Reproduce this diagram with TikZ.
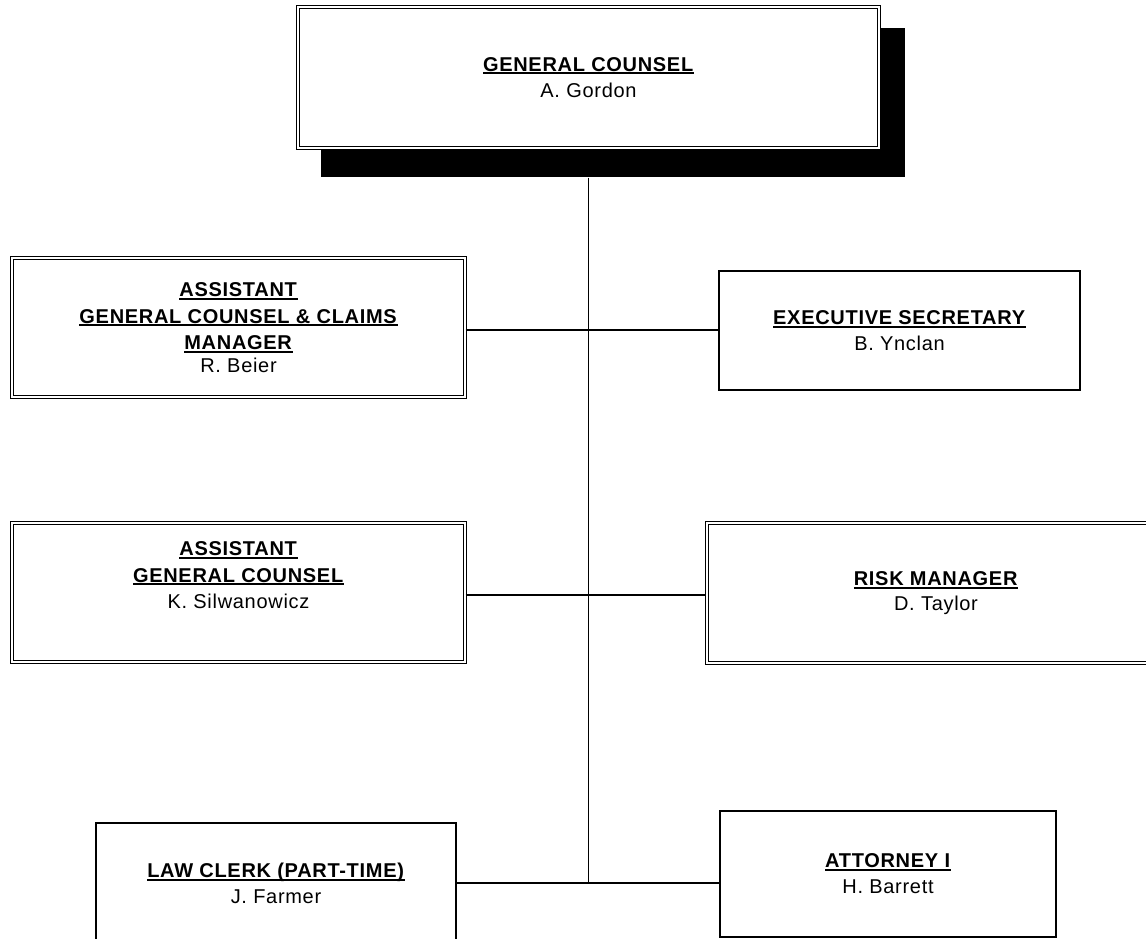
\documentclass[tikz,border=0pt]{standalone}
\usepackage{fontspec}
\setmainfont{Liberation Sans}[LetterSpace=3.5]
\newcommand{\ttl}[1]{\setbox0\hbox{\textbf{#1}}\rlap{\vrule height -1.2pt depth 2.9pt width \wd0}\box0}

\begin{document}
\begin{tikzpicture}[x=1pt,y=-1pt,line width=1.3pt,
    box/.style={draw,fill=white,inner sep=0pt,align=center,font=\fontsize{20}{25.5}\selectfont},
    main node/.style={box,line width=1.6pt},
    double node/.style={box,double,line width=1.2pt,double distance=1.4pt,font=\fontsize{20}{26.5}\selectfont},
    head node/.style={double node,line width=1.5pt,minimum width=581,minimum height=141},
    shadow node/.style={fill=black,inner sep=0pt,minimum width=584,minimum height=149}]
    \useasboundingbox (0,0) rectangle (1146,938);

    \node[shadow node] at (613, 102.5) (gcs) {};
    \node[head node] at (588.5, 77.5) (gc) {\ttl{GENERAL COUNSEL}\\A. Gordon};

    \node[double node,minimum width=453,minimum height=139] at (238.5, 327.5) (beier)
        {\ttl{ASSISTANT}\\\ttl{GENERAL COUNSEL \& CLAIMS}\\\ttl{MANAGER}\\[-4pt]R. Beier};
    \node[main node,minimum width=361,minimum height=119] at (899.5, 330.5) (exec)
        {\ttl{EXECUTIVE SECRETARY}\\B. Ynclan};
    \node[double node,minimum width=453,minimum height=139,text depth=34.6pt] at (238.5, 592.5) (silw)
        {\ttl{ASSISTANT}\\\ttl{GENERAL COUNSEL}\\K. Silwanowicz};
    \node[double node,minimum width=458,minimum height=140] at (936, 593) (risk)
        {\ttl{RISK MANAGER}\\[-2pt]D. Taylor};
    \node[main node,minimum width=360,minimum height=121] at (276, 883.5) (clerk)
        {\ttl{LAW CLERK (PART-TIME)}\\J. Farmer};
    \node[main node,minimum width=336,minimum height=126] at (888, 873.7) (atty)
        {\ttl{ATTORNEY I}\\H. Barrett};

    \coordinate (j1) at (588.5, 330);
    \coordinate (j2) at (588.5, 595);
    \coordinate (j3) at (588.5, 883);

    \draw (gcs.south -| gc.south) -- (j3);
    \draw (j1 -| beier.east) -- (j1 -| exec.west);
    \draw (j2 -| silw.east) -- (j2 -| risk.west);
    \draw (j3 -| clerk.east) -- (j3 -| atty.west);
\end{tikzpicture}
\end{document}
